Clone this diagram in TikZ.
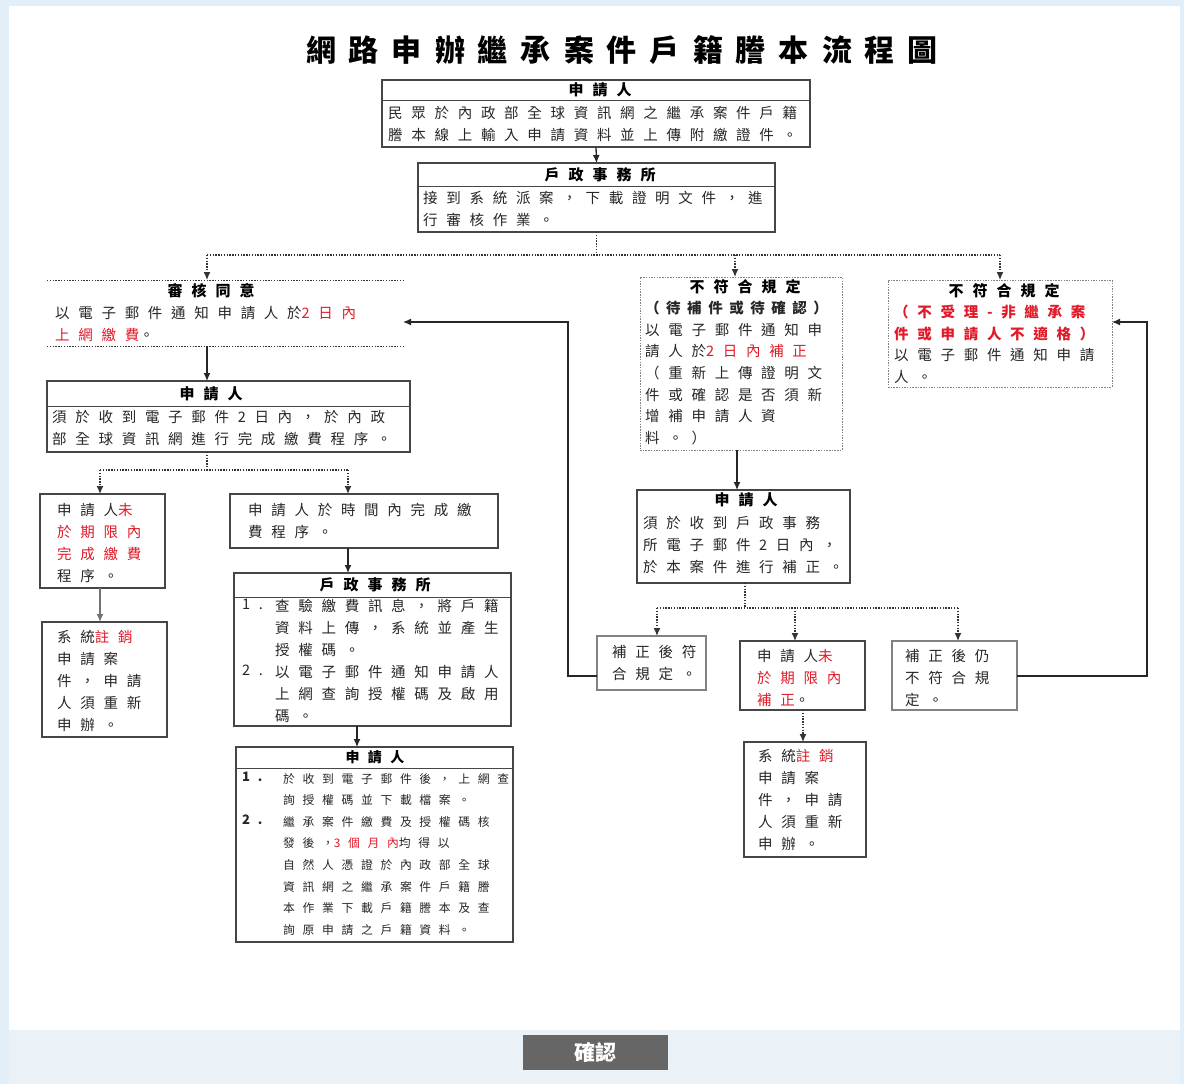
\documentclass[tikz,border=0pt]{standalone}
\usepackage{fontspec}
\usetikzlibrary{arrows.meta,calc}
\newfontfamily\cjk[LetterSpace=60]{Noto Sans CJK TC}
\newfontfamily\cjks[LetterSpace=65]{Noto Sans CJK TC}
\newfontfamily\cjkb{Noto Sans CJK TC}
\definecolor{hl}{RGB}{225,25,40}
\definecolor{bd}{RGB}{70,70,70}
\definecolor{lbd}{RGB}{130,130,130}
\definecolor{bgc}{RGB}{226,238,248}
\definecolor{barc}{RGB}{234,241,247}
\definecolor{btn}{RGB}{102,102,102}
\newcommand\bx[6][]{\node[box,#1,minimum width={(#5-#3)*1pt},minimum height={(#6-#4)*1pt}] (#2) at (#3,#4) {};}
\newcommand\hl[1]{{\color{hl}#1}}
\newcommand\tg{\hspace{13pt}}
\begin{document}
\begin{tikzpicture}[x=1pt,y=-1pt,
  box/.style={draw=bd, line width=1.2pt, inner sep=0pt, outer sep=0pt, anchor=north west},
  dbox/.style={draw=lbd, line width=1pt, dash pattern=on 1.5pt off 1.2pt},
  txt/.style={anchor=north west, inner sep=0pt, align=left, text=black!85, font=\cjk\fontsize{14.5}{22}\selectfont},
  stxt/.style={anchor=north west, inner sep=0pt, align=left, text=black!85, font=\cjks\fontsize{11.8}{21.6}\selectfont},
  hd/.style={inner sep=0pt, font=\cjk\bfseries\fontsize{15}{22}\selectfont},
  sep/.style={draw=bd, line width=1pt},
  arr/.style={draw=black!85, line width=1.3pt, -{Latex[length=8pt,width=7pt]}},
  dotl/.style={draw=black!80, line width=1.3pt, dash pattern=on 1.4pt off 1.4pt},
  dotarr/.style={dotl, -{Latex[length=8pt,width=7pt]}}]
\useasboundingbox (0,0) rectangle (1184,1084);
% background
\fill[bgc] (0,0) rectangle (1184,1084);
\fill[white] (9,6) rectangle (1180,1030);
\fill[barc] (9,1030) rectangle (1180,1084);
\node[fill=btn, text=white, minimum width=145pt, minimum height=35pt, inner sep=0pt, anchor=north west,
  font=\cjkb\bfseries\fontsize{21}{24}\selectfont] (ok) at (523,1035) {確認};
% title
\node[font=\cjkb\bfseries\fontsize{30}{36}\selectfont, inner sep=0pt] (title) at (622,50) {網\tg 路\tg 申\tg 辦\tg 繼\tg 承\tg 案\tg 件\tg 戶\tg 籍\tg 謄\tg 本\tg 流\tg 程\tg 圖};

% box 1
\bx{b1}{382}{80}{810}{147}
\draw[sep] (b1.west |- 0,100) -- (b1.east |- 0,100);
\node[hd] (h1) at (600,90) {申請人};
\node[txt] (t1) at (388,106) {民眾於內政部全球資訊網之繼承案件戶籍\\謄本線上輸入申請資料並上傳附繳證件。};
% box 2
\bx{b2}{418}{163}{775}{232}
\draw[sep] (b2.west |- 0,186) -- (b2.east |- 0,186);
\node[hd] (h2) at (600,175) {戶政事務所};
\node[txt] (t2) at (423,191) {接到系統派案，下載證明文件，進\\行審核作業。};
% box 3
\bx[draw=none]{b3}{47}{280}{403}{346}
\draw[dotl, line width=1pt] (b3.north west) -- (b3.north east);
\draw[dotl, line width=1pt] (b3.south west) -- (b3.south east);
\node[hd] (h3) at (211,291) {審核同意};
\node[txt] (t3) at (55,306) {以電子郵件通知申請人於\hl{2日內}\\\hl{上網繳費}。};
% box 4
\bx{b4}{47}{381}{410}{452}
\draw[sep] (b4.west |- 0,406) -- (b4.east |- 0,406);
\node[hd] (h4) at (211,394) {申請人};
\node[txt] (t4) at (52,410) {須於收到電子郵件2日內，於內政\\部全球資訊網進行完成繳費程序。};
% box 5
\bx{b5}{40}{494}{165}{588}
\node[txt] (t5) at (57,503) {申請人\hl{未}\\\hl{於期限內}\\\hl{完成繳費}\\程序。};
% box 6
\bx{b6}{42}{622}{167}{737}
\node[txt] (t6) at (57,630) {系統\hl{註銷}\\申請案\\件，申請\\人須重新\\申辦。};
% box 7
\bx{b7}{230}{494}{498}{548}
\node[txt] (t7) at (248,503) {申請人於時間內完成繳\\費程序。};
% box 8
\bx{b8}{234}{573}{511}{726}
\draw[sep] (b8.west |- 0,597) -- (b8.east |- 0,597);
\node[hd] (h8) at (375,585) {戶政事務所};
\node[txt] (n8) at (242,599) {1.\\ \\ \\2.};
\node[txt] (t8) at (275,599) {查驗繳費訊息，將戶籍\\資料上傳，系統並產生\\授權碼。\\以電子郵件通知申請人\\上網查詢授權碼及啟用\\碼。};
% box 9
\bx{b9}{236}{747}{513}{942}
\draw[sep] (b9.west |- 0,768) -- (b9.east |- 0,768);
\node[hd, font=\cjk\bfseries\fontsize{14}{20}\selectfont] (h9) at (375,757) {申請人};
\node[stxt, font=\cjk\bfseries\fontsize{13}{21.6}\selectfont] (n9) at (242,772) {1.\\ \\2.};
\node[stxt] (t9) at (283,773) {於收到電子郵件後，上網查\\詢授權碼並下載檔案。\\繼承案件繳費及授權碼核\\發後，\hl{3個月內}均得以\\自然人憑證於內政部全球\\資訊網之繼承案件戶籍謄\\本作業下載戶籍謄本及查\\詢原申請之戶籍資料。};
% box 10
\bx[dbox]{b10}{640}{277}{842}{450}
\node[hd] (h10) at (745,287) {不符合規定};
\node[txt, font=\cjk\fontsize{14.5}{21.6}\selectfont] (t10) at (645,301) {{\bfseries\addfontfeature{LetterSpace=45}（待補件或待確認）}\\以電子郵件通知申\\請人於\hl{2日內補正}\\（重新上傳證明文\\件或確認是否須新\\增補申請人資\\料。）};
% box 11
\bx{b11}{637}{490}{850}{583}
\node[hd] (h11) at (746,500) {申請人};
\node[txt] (t11) at (643,516) {須於收到戶政事務\\所電子郵件2日內，\\於本案件進行補正。};
% box 12
\bx[draw=lbd]{b12}{597}{636}{706}{690}
\node[txt] (t12) at (612,645) {補正後符\\合規定。};
% box 13
\bx[line width=1.6pt]{b13}{740}{641}{865}{710}
\node[txt] (t13) at (757,649) {申請人\hl{未}\\\hl{於期限內}\\\hl{補正}。};
% box 14
\bx[draw=lbd]{b14}{892}{641}{1017}{710}
\node[txt] (t14) at (905,649) {補正後仍\\不符合規\\定。};
% box 15
\bx{b15}{744}{742}{866}{857}
\node[txt] (t15) at (758,749) {系統\hl{註銷}\\申請案\\件，申請\\人須重新\\申辦。};
% box 16
\bx[dbox]{b16}{888}{280}{1112}{387}
\node[hd] (h16) at (1004,291) {不符合規定};
\node[txt, font=\cjk\fontsize{14.5}{21.6}\selectfont] (t16) at (894,305) {\textbf{\hl{（不受理-非繼承案}}\\\textbf{\hl{件或申請人不適格）}}\\以電子郵件通知申請\\人。};

% connectors
\draw[arr] (b1.south) -- (b2.north);
\coordinate (jL) at (207,255);
\coordinate (jR) at (1000,255);
\draw[dotl] (b2.south) -- (b2.south |- jL);
\draw[dotl] (jL) -- (jR);
\draw[dotarr] (jL) -- (jL |- b3.north);
\draw[dotarr] (jL -| 735,0) -- (b10.north -| 735,0);
\draw[dotarr] (jR) -- (jR |- b16.north);
\draw[arr] (b3.south -| jL) -- (b4.north -| jL);
\coordinate (k1) at (100,470);
\coordinate (k2) at (348,470);
\draw[dotl] (b4.south -| jL) -- (jL |- k1);
\draw[dotl] (k1) -- (k2);
\draw[dotarr] (k1) -- (k1 |- b5.north);
\draw[dotarr] (k2) -- (k2 |- b7.north);
\draw[arr, draw=black!55] (b5.south -| k1) -- (b6.north -| k1);
\draw[arr] (b7.south -| k2) -- (b8.north -| k2);
\draw[arr] (b8.south -| 357,0) -- (b9.north -| 357,0);
\draw[arr] (b10.south -| 737,0) -- (b11.north -| 737,0);
\coordinate (n1) at (657,608);
\coordinate (n2) at (795,608);
\coordinate (n3) at (958,608);
\draw[dotl] (b11.south -| 745,0) -- (745,608);
\draw[dotl] (n1) -- (n3);
\draw[dotarr] (n1) -- (n1 |- b12.north);
\draw[dotarr] (n2) -- (n2 |- b13.north);
\draw[dotarr] (n3) -- (n3 |- b14.north);
\draw[dotarr] (b13.south -| 803,0) -- (b15.north -| 803,0);
\draw[arr] (b12.west |- 0,676) -| (568,322) -- (b3.east |- 0,322);
\draw[arr] (b14.east |- 0,676) -| (1147,322) -- (b16.east |- 0,322);
\end{tikzpicture}
\end{document}
